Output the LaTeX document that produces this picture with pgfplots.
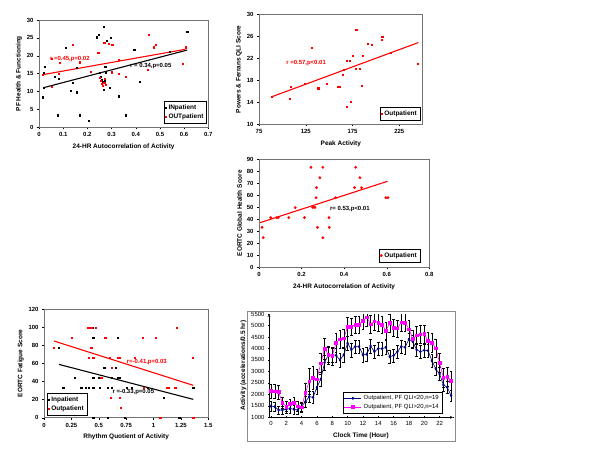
\documentclass[border=0pt]{standalone}
\usepackage{fontspec}
\setmainfont{Liberation Sans}
\usepackage{pgfplots}
\usepackage{pgfplotstable}
\pgfplotsset{compat=1.18}

\definecolor{xlred}{RGB}{255,0,0}
\definecolor{xlnavy}{RGB}{0,0,128}
\definecolor{xlmag}{RGB}{255,0,255}

% hourly activity, half-hour bins: hour, mean, error
\pgfplotstableread{
h v e
0 1490 220
0.5 1465 200
1 1320 180
1.5 1320 180
2 1350 180
2.5 1380 200
3 1350 200
3.5 1320 180
4 1465 200
4.5 1680 220
5 1900 250
5.5 1870 250
6 2310 300
6.5 2660 300
7 3380 320
7.5 3720 330
8 3720 300
8.5 3700 300
9 3500 300
9.5 3720 300
10 4230 300
10.5 3940 300
11 4080 300
11.5 4080 300
12 3720 300
12.5 3750 300
13 4110 300
13.5 3860 300
14 3990 300
14.5 3990 300
15 4050 300
15.5 3640 280
16 3690 280
16.5 3860 280
17 4080 280
17.5 4050 280
18 4400 280
18.5 4300 280
19 3940 280
19.5 3860 280
20 3920 280
20.5 3900 280
21 3460 280
21.5 3110 280
22 2890 280
22.5 2410 260
23 2310 250
23.5 1950 250
}\lowqli

\pgfplotstableread{
h v e
0 2150 300
0.5 2130 300
1 2100 300
1.5 1640 250
2 1470 220
2.5 1580 230
3 1640 230
3.5 1480 220
4 1430 200
4.5 2070 400
5 2570 550
5.5 2730 500
6 2660 450
6.5 3350 450
7 3990 450
7.5 3720 400
8 3670 400
8.5 4250 400
9 4400 400
9.5 4440 400
10 4950 400
10.5 4950 380
11 5040 380
11.5 5040 380
12 5210 380
12.5 5360 380
13 5050 380
13.5 5180 380
14 5130 380
14.5 5040 380
15 4780 380
15.5 5110 380
16 4910 380
16.5 4870 380
17 5140 380
17.5 5130 380
18 4840 380
18.5 4430 380
19 4570 380
19.5 4620 380
20 4630 400
20.5 4330 400
21 4250 400
21.5 4010 400
22 3380 400
22.5 2730 400
23 2770 400
23.5 2600 400
}\highqli

\pgfplotsset{
  xlchart/.style={
    scale only axis,
    anchor=south west,
    font=\fontsize{6}{7}\selectfont\bfseries,
    /pgf/number format/assume math mode=true,
    /pgf/number format/1000 sep={},
    scaled ticks=false,
    tick align=outside,
    tick pos=left,
    major tick length=2bp,
    tick style={black, line width=0.4pt},
    axis line style={black!55, line width=0.5pt},
    label style={font=\fontsize{6.5}{7}\selectfont\bfseries},
    ylabel shift=-2bp,
    legend style={draw=black, line width=0.4pt, inner sep=1pt,
      font=\fontsize{6.5}{7}\selectfont\bfseries, row sep=-1pt},
    legend cell align=left,
  },
  dots/.style={only marks, mark=square*, mark size=0.6bp},
  fitline/.style={no marks, line width=1.1pt, forget plot},
}

\begin{document}
\begin{tikzpicture}
\path[use as bounding box] (0,0) rectangle (600bp,-460bp);

% ---- top left: PF health vs autocorrelation
\begin{axis}[xlchart,
  at={(39bp,-127.3bp)}, width=169.3bp, height=107.3bp,
  xmin=0, xmax=0.7, ymin=0, ymax=30,
  xtick={0,0.1,...,0.7}, ytick={0,5,...,30},
  xlabel={24-HR Autocorrelation of Activity},
  ylabel={PF Health \& Functioning},
  legend style={at={(0.99,0.04)}, anchor=south east},
]
\addplot[dots, black, mark options={fill=black}] coordinates {
(0.014,8.4) (0.018,15.3) (0.022,16.9) (0.02,11.1) (0.066,14.1) (0.083,13.6)
(0.076,3.4) (0.11,22.2) (0.13,10.3) (0.14,12.4) (0.157,9.8) (0.155,16.7)
(0.167,3.4) (0.204,1.9) (0.237,25.2) (0.248,26) (0.266,28.2) (0.25,15.3)
(0.255,14.2) (0.26,13.3) (0.262,12.6) (0.268,10.6) (0.272,13) (0.275,15.3)
(0.274,17) (0.277,15.6) (0.28,24.2) (0.298,25) (0.293,11.1) (0.328,8.7)
(0.36,3.4) (0.394,21.7) (0.415,12.7) (0.54,21.1) (0.613,26.8)
};
\addlegendentry{INpatient}
\addplot[dots, xlred, mark options={fill=xlred}] coordinates {
(0.014,14.8) (0.052,11.3) (0.052,19.2) (0.087,18) (0.083,15) (0.14,23)
(0.167,18.2) (0.213,15.6) (0.245,20.9) (0.25,13.8) (0.256,13) (0.258,12.2)
(0.262,11.7) (0.27,12.4) (0.272,13.7) (0.276,11.8) (0.27,23.6) (0.288,23.3)
(0.303,23.2) (0.30,15.4) (0.328,19) (0.329,15) (0.36,14.1) (0.455,26)
(0.449,16.2) (0.475,22.4) (0.482,23.1) (0.595,17.7) (0.605,22.4)
};
\addlegendentry{OUTpatient}
\addplot[fitline, black] coordinates {(0.02,11.1) (0.613,21.6)};
\addplot[fitline, xlred] coordinates {(0.014,14.7) (0.605,21.8)};
\node[anchor=west, text=xlred, inner sep=0pt] at (axis cs:0.045,19.1) {r =0.45,p=0.02};
\node[anchor=west, text=black, inner sep=0pt] at (axis cs:0.376,17.2) {r = 0.34,p=0.05};
\end{axis}

% ---- top right: QLI vs peak activity
\begin{axis}[xlchart,
  at={(259bp,-124.3bp)}, width=163.7bp, height=109.7bp,
  xmin=75, xmax=250, ymin=10, ymax=30,
  xtick={75,125,175,225}, ytick={10,14,...,30},
  xlabel={Peak Activity},
  ylabel={Powers \& Ferrans QLI Score},
  legend style={at={(0.983,0.04)}, anchor=south east},
]
\addplot[dots, xlred, mark options={fill=xlred}] coordinates {
(88.3,15.0) (107.5,14.6) (108.6,16.9) (123.6,17.4) (131.3,23.9) (138.3,16.6)
(147.7,17.4) (159.6,16.8) (161,16.9) (164.9,19.1) (165.6,20) (168.7,21.6)
(168.7,13.2) (172.2,21.6) (172.6,14.1) (175,22.5) (178.8,27.2) (178.5,20.2)
(182.7,20.2) (184.8,17.1) (185.8,22.5) (191.4,24.7) (195.9,24.5) (205.8,25.4)
(206.8,25.9) (215.6,23) (244.6,21.1)
};
\addlegendentry{Outpatient}
\addplot[fitline, xlred] coordinates {(88.3,15.0) (245.3,24.9)};
\node[anchor=west, text=xlred, inner sep=0pt] at (axis cs:104,21.1) {r =0.57,p<0.01};
\end{axis}

% ---- middle: global health vs autocorrelation
\begin{axis}[xlchart,
  at={(259bp,-267.3bp)}, width=170.3bp, height=108bp,
  xmin=0, xmax=0.8, ymin=0, ymax=90,
  xtick={0,0.2,...,0.8}, ytick={0,10,...,90},
  xlabel={24-HR Autocorrelation of Activity},
  ylabel={EORTC Global Health Score},
  legend style={at={(0.945,0.05)}, anchor=south east},
]
\addplot[only marks, mark=*, mark size=1.2bp, xlred, mark options={fill=xlred}] coordinates {
(0.014,33.3) (0.02,24.7) (0.055,41.4) (0.083,41.4) (0.09,41.4) (0.14,41.4)
(0.17,49.7) (0.214,41.4) (0.244,83.3) (0.252,50) (0.258,50) (0.263,50)
(0.268,58) (0.27,66.4) (0.275,33.3) (0.286,74.7) (0.3,83.3) (0.3,24.7)
(0.329,41.4) (0.33,33.3) (0.36,58) (0.454,83.3) (0.449,66.4) (0.474,74.7)
(0.482,66.4) (0.596,58) (0.606,58)
};
\addlegendentry{Outpatient}
\addplot[fitline, xlred] coordinates {(0.005,37.2) (0.604,71.7)};
\node[anchor=west, text=black, inner sep=0pt] at (axis cs:0.333,48.6) {r= 0.53,p<0.01};
\end{axis}

% ---- bottom left: fatigue vs rhythm quotient
\begin{axis}[xlchart,
  at={(44bp,-417.7bp)}, width=164.3bp, height=108.4bp,
  xmin=0, xmax=1.5, ymin=0, ymax=120,
  xtick={0,0.25,...,1.5}, ytick={0,20,...,120},
  xlabel={Rhythm Quotient of Activity},
  ylabel={EORTC Fatigue Score},
  legend style={at={(0.018,0.025)}, anchor=south west},
]
\addplot[dots, black, mark options={fill=black}] coordinates {
(0.137,77.9) (0.176,33.2) (0.283,44.3) (0.353,22.1) (0.34,33.2) (0.38,33.2)
(0.41,33.2) (0.45,33.2) (0.51,33.2) (0.444,100) (0.45,88.9) (0.45,44.3)
(0.45,0) (0.5,44.3) (0.55,55.7) (0.557,55.7) (0.578,33.2) (0.578,0)
(0.617,33.2) (0.617,44.3) (0.67,88.9) (0.657,55.7) (0.67,44.3) (0.69,44.3)
(0.74,0) (0.754,33.2) (0.8,33.2) (0.946,33.2) (1.09,22.1) (1.235,0) (1.363,33.2)
};
\addlegendentry{Inpatient}
\addplot[dots, xlred, mark options={fill=xlred}] coordinates {
(0.091,77.9) (0.25,88.9) (0.40,100) (0.42,100) (0.435,100) (0.475,100)
(0.43,77.9) (0.41,66.8) (0.45,66.8) (0.517,44.3) (0.527,44.3) (0.557,88.9)
(0.566,88.9) (0.6,66.8) (0.61,22.1) (0.617,55.7) (0.67,66.8) (0.69,66.8)
(0.694,22.1) (0.70,11.1) (0.83,66.8) (0.9,88.9) (0.907,33.2) (1.02,88.9)
(1.06,0) (1.12,33.2) (1.135,33.2) (1.19,33.2) (1.2,33.2) (1.21,100)
(1.357,66.8) (1.363,0)
};
\addlegendentry{Outpatient}
\addplot[fitline, black] coordinates {(0.137,59) (1.363,20.3)};
\addplot[fitline, xlred] coordinates {(0.091,84.9) (1.363,35.8)};
\node[anchor=west, text=xlred, inner sep=0pt] at (axis cs:0.755,62) {r=-0.41,p=0.03};
\node[anchor=west, text=black, inner sep=0pt] at (axis cs:0.624,28.4) {r =-0.33,p=0.05};
\end{axis}

% ---- bottom right: activity by clock time
\draw[black!45, line width=0.5pt] (247bp,-311bp) rectangle (455bp,-441bp);
\begin{axis}[xlchart,
  at={(269bp,-417.3bp)}, width=184bp, height=103.3bp,
  xmin=-0.25, xmax=23.75, ymin=1000, ymax=5500,
  axis lines=left, axis line style={black, line width=0.4pt},
  xtick={0,2,...,22}, ytick={1000,1500,...,5500},
  minor xtick={0.75,1.75,...,23.75},
  minor tick length=1.5bp,
  tick label style={font=\fontsize{6}{7}\selectfont},
  xlabel={Clock Time (Hour)},
  ylabel={Activity (accelerations/0.5 hr)},
  legend style={at={(0.94,0.04)}, anchor=south east,
    font=\fontsize{6}{7}\selectfont},
  error bars/error bar style={black, line width=0.35pt},
  error bars/error mark options={rotate=90, mark size=1.3bp, black, line width=0.35pt},
]
\addplot[xlnavy, line width=0.6pt, mark=diamond*, mark size=1.2bp,
  mark options={fill=xlnavy},
  error bars/.cd, y dir=both, y explicit]
  table[x=h, y=v, y error=e] {\lowqli};
\addlegendentry{Outpatient, PF QLI<20,n=19}
\addplot[xlmag, line width=0.6pt, mark=square*, mark size=1.3bp,
  mark options={fill=xlmag},
  error bars/.cd, y dir=both, y explicit]
  table[x=h, y=v, y error=e] {\highqli};
\addlegendentry{Outpatient, PF QLI>20,n=14}
\end{axis}
\end{tikzpicture}
\end{document}
